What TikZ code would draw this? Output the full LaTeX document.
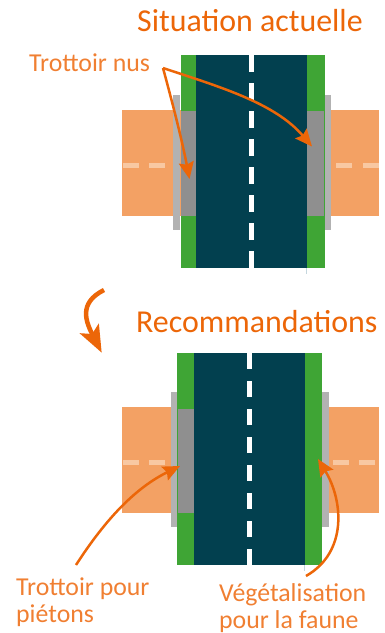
\documentclass[tikz,border=0pt]{standalone}
\usepackage{fontspec}
\setmainfont[Ligatures=Common]{Carlito}
\usetikzlibrary{arrows.meta, positioning}
\definecolor{roadblue}{HTML}{02404F}
\definecolor{vergegreen}{HTML}{3FA535}
\definecolor{walkgrey}{HTML}{8F8F8F}
\definecolor{curbgrey}{HTML}{B2B2B2}
\definecolor{sideorange}{HTML}{F3A164}
\definecolor{sidedash}{HTML}{F8C8A2}
\definecolor{arroworange}{HTML}{EC6608}
\definecolor{labelorange}{HTML}{F07F32}

\begin{document}
\begin{tikzpicture}[
    x=1pt, y=-1pt,
    title/.style={
        anchor=base west, inner sep=0pt, text=arroworange,
        font=\fontsize{31.9}{34}\selectfont
    },
    lbl/.style={
        anchor=base west, inner sep=0pt, text=labelorange, align=left,
        font=\fontsize{25.8}{27}\selectfont
    },
    callout/.style={
        -{Stealth[length=17pt, width=15pt, inset=2.5pt]}, line width=2.5pt, draw=arroworange
    }
]
\useasboundingbox (0,0) rectangle (384,633);

% situation actuelle
\fill[sideorange] (122,110) rectangle (181,216);
\fill[sideorange] (331,110) rectangle (379,216);
\foreach \x in {123,149,336,363}
    \fill[sidedash] (\x,163) rectangle ++(16,5);
\fill[curbgrey] (173,95) rectangle (180,230);
\fill[curbgrey] (324,95) rectangle (331,230);
\fill[vergegreen] (181,55) rectangle (325,268);
\fill[walkgrey] (181,111) rectangle (195.5,216);
\fill[walkgrey] (306.5,111) rectangle (324,216);
\fill[roadblue] (195.5,55) rectangle (306.5,268);
\foreach \y in {55,83,...,251}
    \fill[white] (248.5,\y) rectangle ++(5.5,17);
\draw[cyan!30!gray!40, line width=0.4pt] (306.5,268) -- (306.5,274);

% recommandations
\fill[sideorange] (122,407) rectangle (178,513);
\fill[sideorange] (329,407) rectangle (379,513);
\foreach \x in {123,149,333,359}
    \fill[sidedash] (\x,460) rectangle ++(16,5);
\fill[curbgrey] (171,392) rectangle (178,527);
\fill[curbgrey] (322,392) rectangle (329,527);
\fill[vergegreen] (177,353) rectangle (322,565);
\fill[walkgrey] (178,409) rectangle (194,513);
\fill[roadblue] (194,353) rectangle (305,565);
\foreach \y in {353,381,...,549}
    \fill[white] (246.5,\y) rectangle ++(5.5,16);
\draw[cyan!30!gray!40, line width=0.4pt] (304.5,565) -- (304.5,571);

% titles and labels
\node[title] (situation) at (137,31.5) {Situation actuelle};
\node[title] (recomm) at (136,332.5) {Recommandations};
\node[lbl] (nus) at (29,71) {Trottoir nus};
\node[lbl] (pietons) at (16,622) {Trottoir pour\\piétons};
\node[lbl] (faune) at (219,628) {Végétalisation\\pour la faune};

% free ends
\coordinate (nusstart) at (163,68);
\coordinate (nusleft) at (189.5,179);
\coordinate (nusright) at (312,146.5);
\coordinate (pietonsstart) at (76,565);
\coordinate (pietonsend) at (180,466);
\coordinate (faunestart) at (306,576);
\coordinate (fauneend) at (318,459);
\coordinate (bigstart) at (104,290);
\coordinate (bigend) at (101.7,352.7);

% arrows
\draw[callout] (nusstart) .. controls (173,105) and (182,140) .. (nusleft);
\draw[callout] (nusstart) .. controls (220,87) and (275,103) .. (nusright);
\draw[callout] (pietonsstart) .. controls (105,520) and (135,488) .. (pietonsend);
\draw[callout] (faunestart) .. controls (348,552) and (343,500) .. (fauneend);
\draw[-{Stealth[length=27pt, width=21pt, inset=6pt]}, line width=4.5pt, draw=arroworange]
    (bigstart) .. controls (78,303) and (86,322) .. (bigend);

\end{tikzpicture}
\end{document}
